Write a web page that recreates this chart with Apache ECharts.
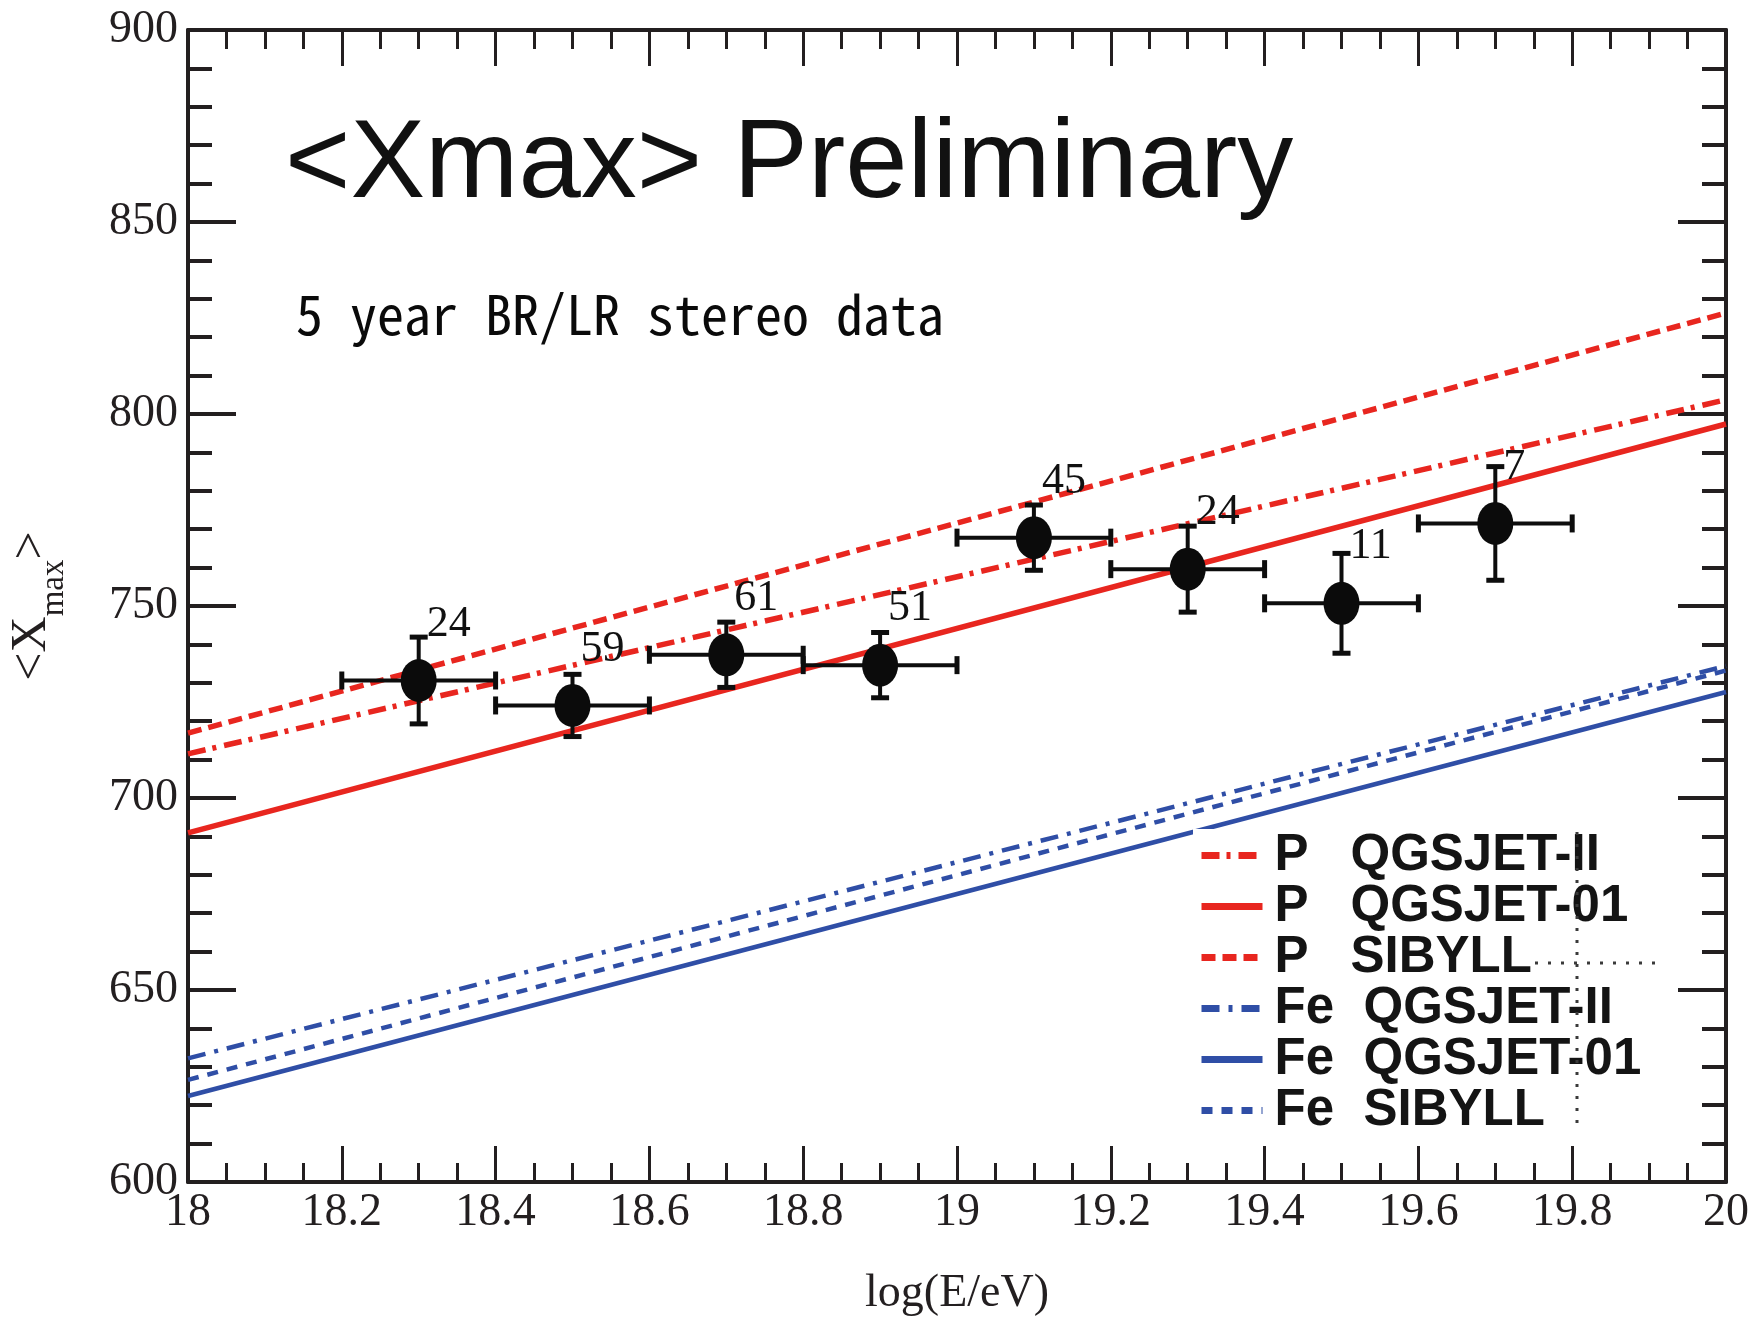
<!DOCTYPE html>
<html>
<head>
<meta charset="utf-8">
<script src="https://cdn.jsdelivr.net/npm/echarts@6/dist/echarts.min.js"></script>
<style>
  html, body { margin: 0; padding: 0; background: #ffffff; }
  #chart { width: 1752px; height: 1318px; }
</style>
</head>
<body>
<div id="chart"></div>
<script>
// Measured energy bins: log10(E/eV), mean Xmax (g/cm^2), stat. error, bin half width, events
const logE = [18.3, 18.5, 18.7, 18.9, 19.1, 19.3, 19.5, 19.7];
const meanXmax = [730.6, 724.1, 737.3, 734.6, 767.8, 759.6, 750.7, 771.5];
const xmaxErr = [11.3, 8.1, 8.5, 8.5, 8.5, 11.2, 13.0, 14.8];
const binHalfWidth = [0.1, 0.1, 0.1, 0.1, 0.1, 0.1, 0.1, 0.1];
const nEvents = [24, 59, 61, 51, 45, 24, 11, 7];

// Simulated <Xmax> for proton and iron, given at both ends of the energy range
const modelLogE = [18, 20];
const pQgsjetII = [711.5, 803.7];
const pQgsjet01 = [690.9, 797.4];
const pSibyll = [716.9, 826.3];
const feQgsjetII = [632.2, 734.4];
const feQgsjet01 = [622.4, 727.6];
const feSibyll = [626.6, 733.2];

// Axis ranges
const xRange = { min: 18, max: 20, step: 0.2 };
const yRange = { min: 600, max: 900, step: 50 };

const RED = '#e8261f';
const BLUE = '#2f4ea6';
const INK = '#231f20';
const SERIF = "'Liberation Serif', 'DejaVu Serif', serif";
const SANS = "'Liberation Sans', Arial, sans-serif";

const models = [
  { name: 'P QGSJET-II', values: pQgsjetII, color: RED, type: [18, 7, 4, 8], width: 5.5 },
  { name: 'P QGSJET-01', values: pQgsjet01, color: RED, type: 'solid', width: 5.5 },
  { name: 'P SIBYLL', values: pSibyll, color: RED, type: [14, 7], width: 5.5 },
  { name: 'Fe QGSJET-II', values: feQgsjetII, color: BLUE, type: [18, 9, 4, 9], width: 4.5 },
  { name: 'Fe QGSJET-01', values: feQgsjet01, color: BLUE, type: 'solid', width: 4.5 },
  { name: 'Fe SIBYLL', values: feSibyll, color: BLUE, type: [11, 9], width: 4.5 }
];

const modelSeries = models.map(m => ({
  type: 'line',
  name: m.name,
  data: modelLogE.map((e, i) => [e, m.values[i]]),
  symbol: 'none',
  silent: true,
  color: m.color,
  lineStyle: { color: m.color, width: m.width, type: m.type, cap: 'butt' },
  z: 2
}));

const pointData = logE.map((e, i) => [e, meanXmax[i], xmaxErr[i], binHalfWidth[i], nEvents[i]]);

const errorSeries = {
  type: 'custom',
  name: 'errors',
  silent: true,
  data: pointData,
  encode: { x: 0, y: 1 },
  z: 3,
  renderItem(params, api) {
    const x = api.value(0), y = api.value(1), dy = api.value(2), dx = api.value(3);
    const c = api.coord([x, y]);
    const top = api.coord([x, y + dy]);
    const bot = api.coord([x, y - dy]);
    const left = api.coord([x - dx, y]);
    const right = api.coord([x + dx, y]);
    const bar = { stroke: '#0d0d0d', lineWidth: 4 };
    const cap = { stroke: '#0d0d0d', lineWidth: 5 };
    return {
      type: 'group',
      children: [
        { type: 'line', shape: { x1: left[0], y1: c[1], x2: right[0], y2: c[1] }, style: bar },
        { type: 'line', shape: { x1: c[0], y1: top[1], x2: c[0], y2: bot[1] }, style: bar },
        { type: 'line', shape: { x1: c[0] - 9, y1: top[1], x2: c[0] + 9, y2: top[1] }, style: cap },
        { type: 'line', shape: { x1: c[0] - 9, y1: bot[1], x2: c[0] + 9, y2: bot[1] }, style: cap },
        { type: 'line', shape: { x1: left[0], y1: c[1] - 9, x2: left[0], y2: c[1] + 9 }, style: cap },
        { type: 'line', shape: { x1: right[0], y1: c[1] - 9, x2: right[0], y2: c[1] + 9 }, style: cap }
      ]
    };
  }
};

const pointSeries = {
  type: 'scatter',
  name: 'data',
  silent: true,
  data: pointData,
  encode: { x: 0, y: 1 },
  symbol: 'path://M0,-1 A1,1 0 1,1 0,1 A1,1 0 1,1 0,-1 Z',
  symbolSize: [36, 43],
  itemStyle: { color: '#0b0b0b', opacity: 1 },
  z: 4,
  label: {
    show: true,
    position: [26, -35],
    align: 'left',
    verticalAlign: 'middle',
    formatter: p => String(p.value[4]),
    fontFamily: SERIF,
    fontSize: 44,
    color: '#111111'
  }
};

function xAxisDef(pos) {
  const bottom = pos === 'bottom';
  return {
    type: 'value',
    position: pos,
    min: xRange.min, max: xRange.max, interval: xRange.step,
    axisLine: { show: true, onZero: false, lineStyle: { color: INK, width: 4 } },
    axisTick: { show: true, inside: true, length: 36, lineStyle: { color: INK, width: 3 } },
    minorTick: { show: true, splitNumber: 4, length: 19, lineStyle: { color: INK, width: 3 } },
    splitLine: { show: false },
    axisLabel: bottom ? {
      show: true, margin: 8, fontFamily: SERIF, fontSize: 46, color: INK,
      showMinLabel: true, showMaxLabel: true, hideOverlap: false
    } : { show: false },
    name: bottom ? 'log(E/eV)' : '',
    nameLocation: 'middle',
    nameGap: 89,
    nameTextStyle: { fontFamily: SERIF, fontSize: 46, color: INK }
  };
}

function yAxisDef(pos) {
  const left = pos === 'left';
  return {
    type: 'value',
    position: pos,
    min: yRange.min, max: yRange.max, interval: yRange.step,
    axisLine: { show: true, onZero: false, lineStyle: { color: INK, width: 4 } },
    axisTick: { show: true, inside: true, length: 48, lineStyle: { color: INK, width: 4 } },
    minorTick: { show: true, splitNumber: 5, length: 24, lineStyle: { color: INK, width: 4 } },
    splitLine: { show: false },
    axisLabel: left ? {
      show: true, margin: 10, fontFamily: SERIF, fontSize: 46, color: INK,
      showMinLabel: true, showMaxLabel: true, hideOverlap: false
    } : { show: false },
    name: left ? '<X{sub|max}>' : '',
    nameLocation: 'middle',
    nameRotate: 90,
    nameGap: 117,
    nameTextStyle: {
      fontFamily: SERIF, fontSize: 50, color: INK,
      rich: { sub: { fontFamily: SERIF, fontSize: 33, color: INK, padding: [46, 0, 0, 0] } }
    }
  };
}

const chart = echarts.init(document.getElementById('chart'), null, { renderer: 'canvas' });

const legendFont = { fontFamily: SANS, fontSize: 51, fontWeight: 'bold', color: '#141414', lineHeight: 50 };

chart.setOption({
  animation: false,
  backgroundColor: '#ffffff',
  title: [
    {
      text: '<Xmax> Preliminary',
      left: 285, top: 110, padding: 0,
      textStyle: { fontFamily: SANS, fontSize: 112, fontWeight: 'normal', color: '#111111' }
    },
    {
      text: '5 year BR/LR stereo data',
      left: 296, top: 287, padding: 0,
      textStyle: {
        fontFamily: "'Noto Sans Mono CJK JP', 'Noto Sans Mono CJK SC', 'DejaVu Sans Mono', monospace",
        fontSize: 54, fontWeight: 500, color: '#0a0a0a'
      }
    }
  ],
  grid: { left: 188, right: 26, top: 30, bottom: 136, outerBoundsMode: 'none', containLabel: false },
  xAxis: [xAxisDef('bottom'), xAxisDef('top')],
  yAxis: [yAxisDef('left'), yAxisDef('right')],
  legend: {
    data: models.map(m => m.name),
    orient: 'vertical',
    left: 1193, top: 829,
    padding: [1, 14, 6, 5],
    backgroundColor: '#ffffff',
    itemWidth: 61, itemHeight: 12, itemGap: 0,
    selectedMode: false,
    lineStyle: { width: 7 },
    itemStyle: { opacity: 0 },
    formatter: name => {
      const [particle, model] = name.split(' ');
      return '{' + (particle === 'P' ? 'p' : 'fe') + '|' + particle + '}{m|' + model + '}';
    },
    textStyle: Object.assign({}, legendFont, {
      rich: {
        p: Object.assign({}, legendFont, { width: 76, padding: [0, 0, 0, 7] }),
        fe: Object.assign({}, legendFont, { width: 89, padding: [0, 0, 0, 7] }),
        m: Object.assign({}, legendFont)
      }
    })
  },
  graphic: [
    {
      type: 'line', z: 100, silent: true,
      shape: { x1: 1577, y1: 832, x2: 1577, y2: 1128 },
      style: { stroke: '#3a3a3a', lineWidth: 3, lineDash: [3, 9] }
    },
    {
      type: 'line', z: 100, silent: true,
      shape: { x1: 1535, y1: 963, x2: 1663, y2: 963 },
      style: { stroke: '#3a3a3a', lineWidth: 3, lineDash: [3, 10] }
    }
  ],
  series: [...modelSeries, errorSeries, pointSeries]
});
</script>
</body>
</html>
